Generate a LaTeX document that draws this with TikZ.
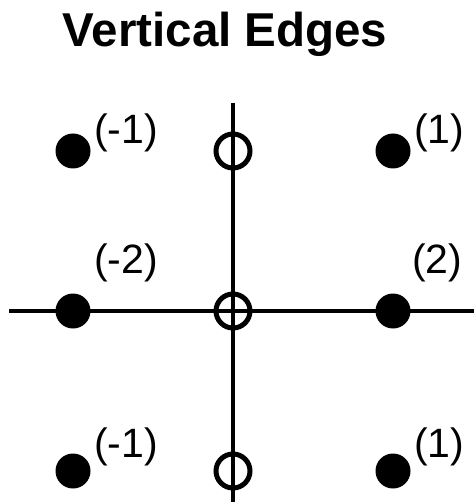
\documentclass[tikz,border=0pt]{standalone}
\usepackage{fontspec}
\setmainfont{Liberation Sans}
\begin{document}
\begin{tikzpicture}[x=1pt,y=-1pt,
  dot/.style={circle,fill=black,inner sep=0pt,minimum size=35pt},
  hole/.style={circle,draw=black,line width=5pt,inner sep=0pt,minimum size=34pt},
  lbl/.style={anchor=base west,inner sep=0pt,font=\fontsize{41}{49}\selectfont},
  axisline/.style={line width=4pt}]
\useasboundingbox (0,0) rectangle (474,502);
\node[anchor=base,inner sep=0pt,font=\fontsize{47.5}{57}\selectfont\bfseries] (title) at (225,47) {Vertical Edges};
\coordinate (vt) at (233,103);
\coordinate (vb) at (233,502);
\coordinate (hl) at (9,311);
\coordinate (hr) at (474,311);
\draw[axisline] (vt) -- (vb);
\draw[axisline] (hl) -- (hr);
% dots
\node[dot] (tl) at (73,151) {};
\node[dot] (tr) at (393,151) {};
\node[dot] (ml) at (73,311) {};
\node[dot] (mr) at (393,311) {};
\node[dot] (bl) at (73,471) {};
\node[dot] (br) at (393,471) {};
% open circles
\node[hole] (tc) at (233,151) {};
\node[hole] (mc) at (233,311) {};
\node[hole] (bc) at (233,471) {};
% labels
\node[lbl] (ltl) at (94,144) {(-1)};
\node[lbl] (ltr) at (414,144) {(1)};
\node[lbl] (lml) at (94,273) {(-2)};
\node[lbl] (lmr) at (412,273) {(2)};
\node[lbl] (lbl1) at (94,457) {(-1)};
\node[lbl] (lbr) at (414,457) {(1)};
\end{tikzpicture}
\end{document}
